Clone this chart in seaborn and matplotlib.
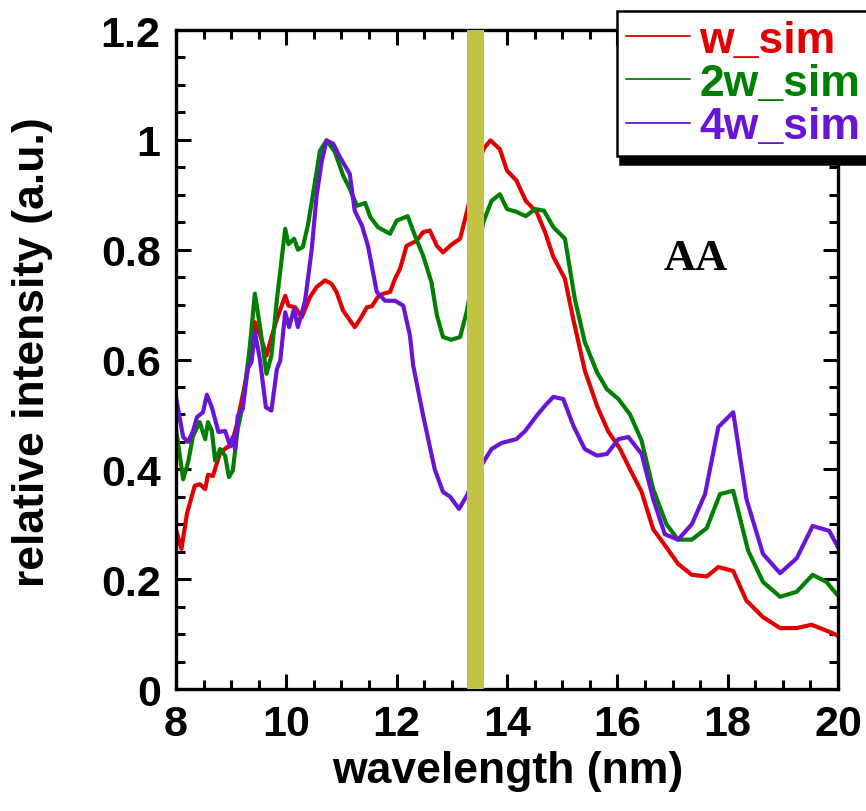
import numpy as np
import pandas as pd
import seaborn as sns
import matplotlib.pyplot as plt
from matplotlib.ticker import MultipleLocator, FuncFormatter

# values
w_x = [8.0, 8.1, 8.2, 8.34, 8.43, 8.53, 8.58, 8.67, 8.8, 8.92, 9.0, 9.1, 9.19, 9.3, 9.43, 9.54, 9.64, 9.73,
       9.83, 9.98, 10.04, 10.16, 10.28, 10.43, 10.55, 10.7, 10.82, 10.91, 11.03, 11.24, 11.34, 11.46, 11.55,
       11.66, 11.76, 11.88, 11.97, 12.06, 12.18, 12.36, 12.48, 12.6, 12.73, 12.84, 12.99, 13.15, 13.27, 13.42,
       13.57, 13.7, 13.87, 14.0, 14.17, 14.34, 14.54, 14.69, 14.84, 15.05, 15.2, 15.41, 15.63, 15.83, 16.05,
       16.23, 16.44, 16.65, 16.89, 17.1, 17.35, 17.62, 17.83, 18.1, 18.34, 18.64, 18.95, 19.25, 19.52, 19.85, 20.0]
w_y = [0.29, 0.255, 0.32, 0.37, 0.373, 0.364, 0.39, 0.388, 0.43, 0.44, 0.443, 0.48, 0.525, 0.58, 0.668, 0.64,
       0.607, 0.64, 0.674, 0.716, 0.698, 0.695, 0.677, 0.714, 0.732, 0.744, 0.738, 0.723, 0.689, 0.659, 0.674,
       0.695, 0.697, 0.714, 0.72, 0.723, 0.747, 0.765, 0.807, 0.816, 0.832, 0.835, 0.807, 0.795, 0.809, 0.82,
       0.868, 0.93, 0.983, 0.999, 0.983, 0.944, 0.926, 0.889, 0.868, 0.832, 0.787, 0.747, 0.674, 0.58, 0.516,
       0.47, 0.437, 0.4, 0.359, 0.291, 0.258, 0.228, 0.208, 0.205, 0.222, 0.215, 0.161, 0.131, 0.111, 0.111,
       0.117, 0.104, 0.097]

w2_x = [8.0, 8.13, 8.22, 8.31, 8.43, 8.53, 8.58, 8.65, 8.71, 8.8, 8.89, 8.96, 9.03, 9.12, 9.21, 9.34, 9.43,
        9.52, 9.64, 9.73, 9.83, 9.98, 10.04, 10.14, 10.21, 10.3, 10.39, 10.49, 10.61, 10.73, 10.88, 11.03, 11.15,
        11.28, 11.43, 11.52, 11.66, 11.88, 12.0, 12.2, 12.33, 12.48, 12.63, 12.73, 12.84, 12.99, 13.15, 13.27,
        13.42, 13.57, 13.72, 13.87, 14.0, 14.17, 14.34, 14.51, 14.67, 14.84, 15.05, 15.23, 15.41, 15.63, 15.81,
        16.02, 16.23, 16.44, 16.65, 16.89, 17.1, 17.35, 17.62, 17.86, 18.1, 18.37, 18.64, 18.95, 19.25, 19.54,
        19.79, 20.0]
w2_y = [0.474, 0.382, 0.413, 0.461, 0.486, 0.455, 0.486, 0.47, 0.416, 0.437, 0.425, 0.386, 0.398, 0.474, 0.516,
        0.625, 0.72, 0.662, 0.574, 0.607, 0.71, 0.838, 0.81, 0.82, 0.8, 0.805, 0.844, 0.905, 0.98, 0.999, 0.978,
        0.935, 0.911, 0.88, 0.885, 0.86, 0.841, 0.829, 0.853, 0.861, 0.826, 0.789, 0.741, 0.68, 0.641, 0.636,
        0.641, 0.687, 0.77, 0.85, 0.889, 0.901, 0.874, 0.869, 0.861, 0.874, 0.871, 0.841, 0.82, 0.71, 0.632,
        0.577, 0.546, 0.528, 0.5, 0.452, 0.364, 0.3, 0.272, 0.272, 0.293, 0.355, 0.361, 0.252, 0.195, 0.168,
        0.177, 0.208, 0.195, 0.17]

w4_x = [8.0, 8.07, 8.13, 8.22, 8.31, 8.38, 8.49, 8.56, 8.65, 8.77, 8.89, 8.98, 9.03, 9.07, 9.12, 9.21, 9.3,
        9.37, 9.43, 9.52, 9.63, 9.73, 9.83, 9.89, 9.98, 10.05, 10.14, 10.21, 10.34, 10.46, 10.55, 10.64, 10.73,
        10.85, 10.97, 11.15, 11.24, 11.37, 11.48, 11.64, 11.79, 11.97, 12.12, 12.24, 12.3, 12.48, 12.69, 12.84,
        12.97, 13.13, 13.27, 13.42, 13.57, 13.72, 13.9, 14.17, 14.33, 14.54, 14.69, 14.84, 15.02, 15.2, 15.41,
        15.63, 15.81, 16.02, 16.2, 16.44, 16.65, 16.86, 17.1, 17.35, 17.59, 17.83, 18.1, 18.34, 18.64, 18.95,
        19.25, 19.54, 19.84, 20.0]
w4_y = [0.532, 0.492, 0.459, 0.45, 0.47, 0.495, 0.504, 0.536, 0.513, 0.468, 0.47, 0.443, 0.459, 0.437, 0.498,
        0.51, 0.583, 0.596, 0.65, 0.601, 0.513, 0.507, 0.583, 0.598, 0.686, 0.659, 0.692, 0.659, 0.707, 0.8,
        0.899, 0.96, 0.999, 0.993, 0.969, 0.938, 0.871, 0.844, 0.807, 0.723, 0.707, 0.707, 0.698, 0.644, 0.589,
        0.498, 0.4, 0.359, 0.35, 0.328, 0.352, 0.385, 0.413, 0.437, 0.448, 0.455, 0.47, 0.498, 0.516, 0.532,
        0.528, 0.48, 0.437, 0.425, 0.428, 0.455, 0.459, 0.428, 0.346, 0.282, 0.272, 0.3, 0.355, 0.477, 0.504,
        0.346, 0.246, 0.211, 0.238, 0.297, 0.288, 0.258]

series = ["w_sim", "2w_sim", "4w_sim"]
colors = ["#e00000", "#007f00", "#6a14d8"]
band = (13.27, 13.58)

df = pd.concat([
    pd.DataFrame({"wavelength": w_x, "intensity": w_y, "series": "w_sim"}),
    pd.DataFrame({"wavelength": w2_x, "intensity": w2_y, "series": "2w_sim"}),
    pd.DataFrame({"wavelength": w4_x, "intensity": w4_y, "series": "4w_sim"}),
], ignore_index=True)

sns.set_style("ticks")
plt.rcParams["font.family"] = ["Liberation Sans", "DejaVu Sans"]
plt.rcParams["font.weight"] = "bold"
plt.rcParams["text.color"] = "black"
plt.rcParams["axes.labelcolor"] = "black"

fig = plt.figure(figsize=(8.66, 8.12), dpi=100)
ax = fig.add_axes([0.2032, 0.1502, 0.7645, 0.8116])

sns.lineplot(data=df, x="wavelength", y="intensity", hue="series", hue_order=series,
             palette=colors, estimator=None, sort=False, linewidth=3.0, ax=ax, legend=False)

ax.axvspan(band[0], band[1], color="#c2c244", zorder=5, lw=0)

ax.set_xlim(8, 20)
ax.set_ylim(0, 1.2)
ax.xaxis.set_major_locator(MultipleLocator(2))
ax.xaxis.set_minor_locator(MultipleLocator(0.5))
ax.yaxis.set_major_locator(MultipleLocator(0.2))
ax.yaxis.set_minor_locator(MultipleLocator(0.05))
ax.yaxis.set_major_formatter(FuncFormatter(lambda v, p: "%g" % round(v, 2)))
ax.tick_params(which="both", direction="in", top=True, right=True, width=2.2, labelsize=31, colors="black")
ax.tick_params(which="major", length=11, pad=11)
ax.tick_params(which="minor", length=6.5)
for lab in ax.get_xticklabels() + ax.get_yticklabels():
    lab.set_fontweight("bold")
for s in ax.spines.values():
    s.set_linewidth(2.4)
    s.set_color("black")

ax.set_xlabel("wavelength (nm)", fontsize=32, fontweight="bold", color="black")
ax.set_ylabel("relative intensity (a.u.)", fontsize=32, fontweight="bold", color="black")
ax.xaxis.set_label_coords(0.5015, -0.092)
ax.yaxis.set_label_coords(-0.186, 0.513)

ax.text(17.43, 0.785, "AA", fontsize=32, fontweight="bold", family="Liberation Serif",
        ha="center", va="center")

handles = [plt.Line2D([], [], color=c, lw=1.3) for c in colors]
leg = ax.legend(handles, series, loc="lower left", bbox_to_anchor=(617 / 866, 1 - 157 / 812),
                bbox_transform=fig.transFigure, prop={"weight": "bold", "size": 32},
                frameon=True, fancybox=False, edgecolor="black", framealpha=1,
                handlelength=1.45, handletextpad=0.2, labelspacing=0.05, borderpad=0.2,
                borderaxespad=0, shadow={"ox": 2, "oy": -6, "facecolor": "black", "edgecolor": "black", "alpha": 1})
leg.get_frame().set_linewidth(1.8)
for t, c in zip(leg.get_texts(), colors):
    t.set_color(c)

fig.savefig("out.png", dpi=100)
